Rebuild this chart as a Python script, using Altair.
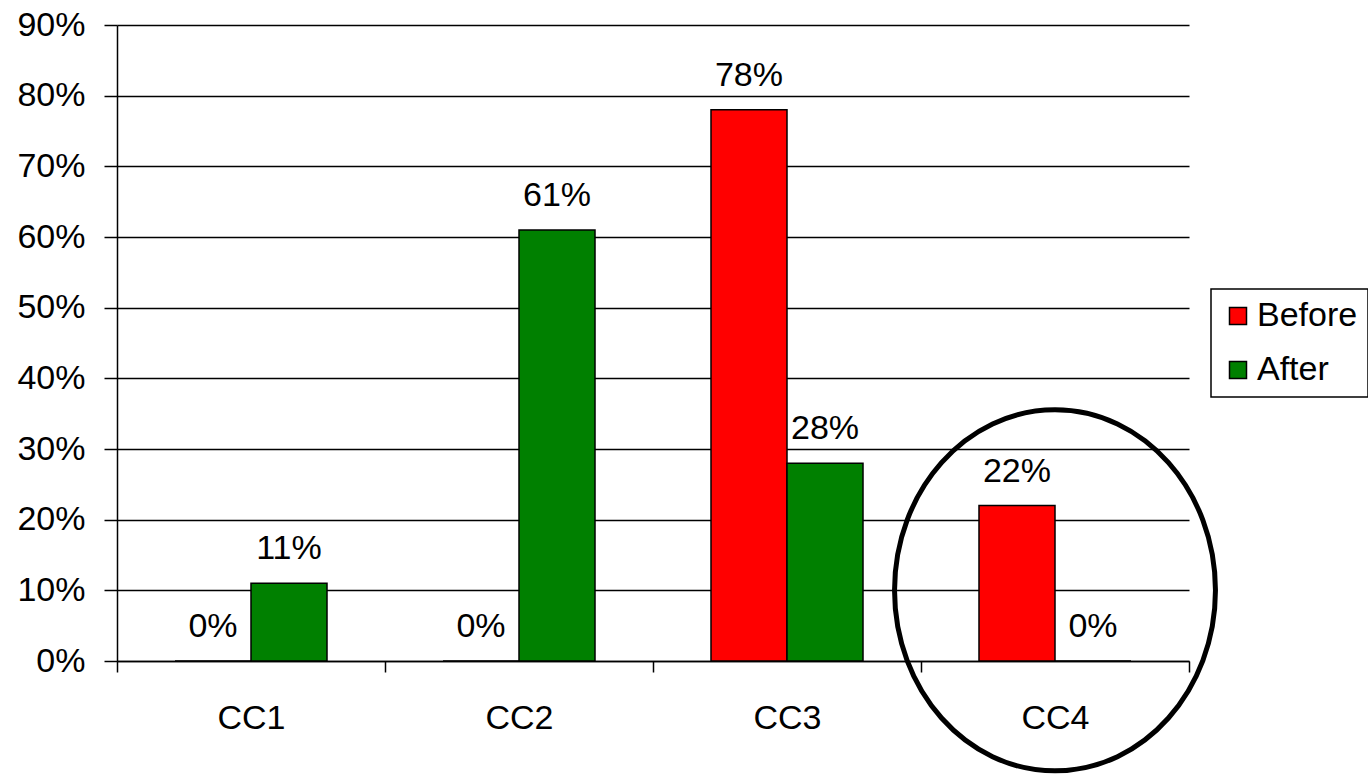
import altair as alt
import pandas as pd

# Share of responses per code, before and after the change
categories = ["CC1", "CC2", "CC3", "CC4"]
before = [0.00, 0.00, 0.78, 0.22]
after = [0.11, 0.61, 0.28, 0.00]
series = ["Before", "After"]
series_colors = ["#ff0000", "#008000"]
y_ticks = [0.0, 0.1, 0.2, 0.3, 0.4, 0.5, 0.6, 0.7, 0.8, 0.9]

# Highlight ring drawn around one category
highlight_category = ["CC4"]
highlight_level = [0.10]

FONT = "Liberation Sans"
FS = 34

rows = []
for cat, b, a in zip(categories, before, after):
    rows.append({"category": cat, "series": "Before", "value": b})
    rows.append({"category": cat, "series": "After", "value": a})
df = pd.DataFrame(rows)

x_enc = alt.X(
    "category:N",
    sort=categories,
    scale=alt.Scale(paddingInner=0, paddingOuter=0),
    axis=alt.Axis(
        title=None,
        labelAngle=0,
        tickBand="extent",
        tickSize=11,
        tickWidth=1.5,
        tickColor="black",
        labelPadding=29,
        labelFontSize=FS,
        labelFont=FONT,
        labelColor="black",
        domainColor="black",
        domainWidth=1.5,
        grid=False,
    ),
)
y_enc = alt.Y(
    "value:Q",
    scale=alt.Scale(domain=[0, 0.9], nice=False, zero=True),
    axis=alt.Axis(
        title=None,
        format=".0%",
        values=y_ticks,
        tickSize=13,
        tickWidth=1.5,
        tickColor="black",
        labelPadding=19,
        labelFontSize=FS,
        labelFont=FONT,
        labelColor="black",
        domainColor="black",
        domainWidth=1.5,
        grid=True,
        gridColor="black",
        gridWidth=1.5,
        gridOpacity=1,
    ),
)
offset_enc = alt.XOffset(
    "series:N",
    sort=series,
    scale=alt.Scale(paddingInner=0, paddingOuter=0.763),
)

base = alt.Chart(df)

bars = base.mark_bar(stroke="black", strokeWidth=1.5).encode(
    x=x_enc,
    xOffset=offset_enc,
    y=y_enc,
    color=alt.Color(
        "series:N",
        sort=series,
        scale=alt.Scale(domain=series, range=series_colors),
        legend=alt.Legend(
            title=None,
            orient="none",
            legendX=1094,
            legendY=264,
            direction="vertical",
            strokeColor="black",
            padding=10,
            symbolType="square",
            symbolSize=289,
            symbolStrokeColor="black",
            symbolStrokeWidth=1.5,
            symbolOpacity=1,
            labelFontSize=FS,
            labelFont=FONT,
            labelColor="black",
            labelOffset=2,
            rowPadding=20,
        ),
    ),
)

labels = base.mark_text(
    dy=-34, fontSize=FS, font=FONT, color="black", baseline="middle", align="center"
).encode(
    x=alt.X("category:N", sort=categories),
    xOffset=alt.XOffset("series:N", sort=series),
    y="value:Q",
    text=alt.Text("value:Q", format=".0%"),
)

# Ellipse path in unit coordinates (taller than wide)
ELLIPSE = "M -0.889 0 A 0.889 1 0 1 1 0.889 0 A 0.889 1 0 1 1 -0.889 0 Z"
ring = alt.Chart(
    pd.DataFrame({"category": highlight_category, "value": highlight_level})
).mark_point(
    shape=ELLIPSE,
    size=130321,
    filled=False,
    stroke="black",
    strokeWidth=5,
    opacity=1,
).encode(
    x=alt.X("category:N", sort=categories),
    y="value:Q",
)

chart = (
    alt.layer(bars, labels, ring)
    .properties(
        width=1072,
        height=636,
        autosize=alt.AutoSizeParams(type="none"),
        padding={"left": 117, "top": 25, "right": 179, "bottom": 114},
        background="white",
    )
    .configure_view(stroke=None)
    .configure_legend(strokeWidth=1.5)
)

chart.save("out.html", embed_options={"renderer": "svg", "actions": False})
